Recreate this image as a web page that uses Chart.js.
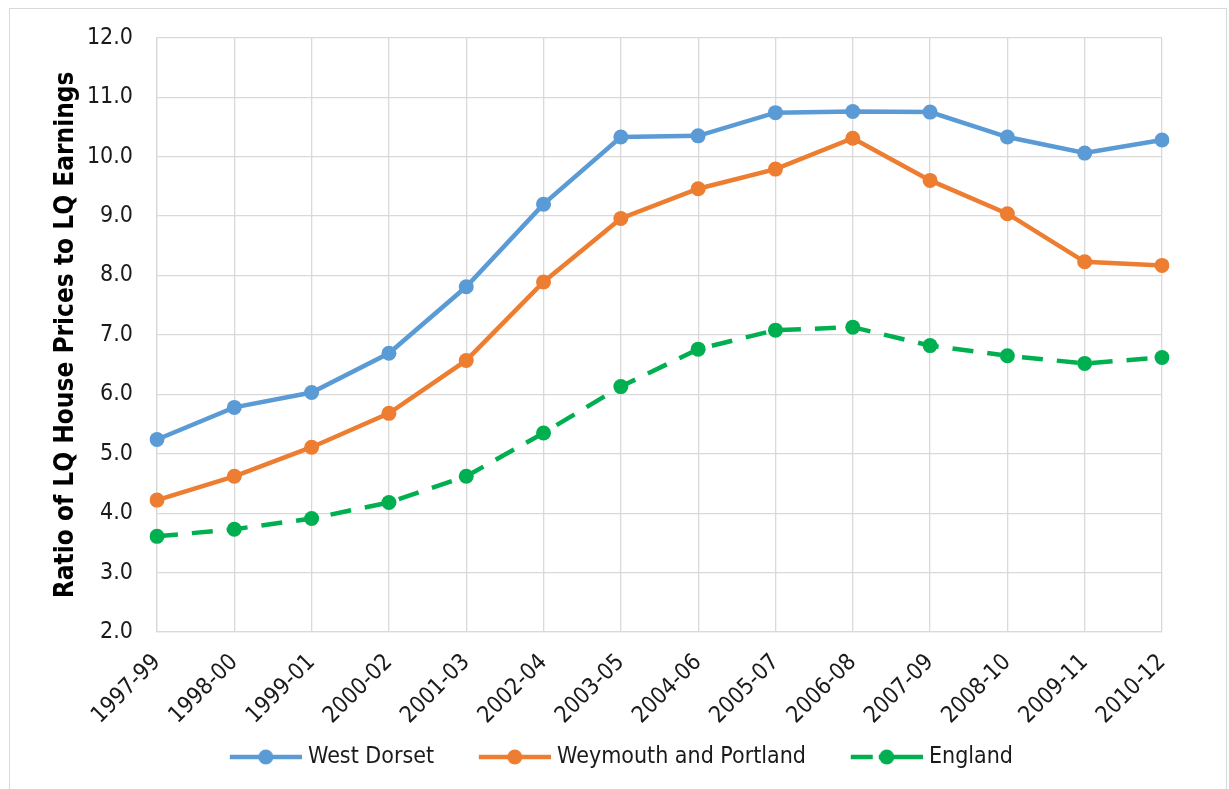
<!DOCTYPE html>
<html>
<head>
<meta charset="utf-8">
<script src="https://cdn.jsdelivr.net/npm/chart.js@4.4.1/dist/chart.umd.min.js"></script>
<style>
html, body { margin: 0; padding: 0; background: #fff; overflow: hidden; }
#wrap { position: relative; width: 1229px; height: 789px; }
#frame { position: absolute; left: 9px; top: 8px; width: 1216px; height: 785px; border: 1px solid #d9d9d9; pointer-events: none; }
</style>
</head>
<body>
<div id="wrap"><canvas id="graficoLinha"></canvas><div id="frame"></div></div>
<script>
const periodos = ['1997-99', '1998-00', '1999-01', '2000-02', '2001-03', '2002-04', '2003-05',
    '2004-06', '2005-07', '2006-08', '2007-09', '2008-10', '2009-11', '2010-12'];
const westDorset = [5.24, 5.78, 6.03, 6.69, 7.81, 9.20, 10.33, 10.35, 10.74, 10.76, 10.75, 10.33, 10.06, 10.28];
const weymouthPortland = [4.22, 4.62, 5.11, 5.68, 6.57, 7.89, 8.96, 9.46, 9.79, 10.31, 9.60, 9.04, 8.23, 8.17];
const england = [3.61, 3.73, 3.91, 4.18, 4.62, 5.35, 6.13, 6.76, 7.08, 7.13, 6.82, 6.65, 6.52, 6.62];
const nomes = ['West Dorset', 'Weymouth and Portland', 'England'];
const cores = ['#5B9BD5', '#ED7D31', '#00B050'];
const tracos = [[], [], [21, 14]];

const fonte = "'DejaVu Sans Condensed', 'Liberation Sans', sans-serif";
const tamanho = 23;
const caixa = 101.5;   // legend box width (image is wider, transparent on the left)

// legend icon: line with a dot, visible part is the right 72px
function icone(cor, tracejado) {
    const c = document.createElement('canvas');
    c.width = caixa + 11; c.height = 18;
    const g = c.getContext('2d');
    const x0 = c.width - 72;
    g.strokeStyle = cor;
    g.lineWidth = 4.5;
    g.beginPath();
    if (tracejado) {
        g.moveTo(x0, 9); g.lineTo(x0 + 22, 9);
        g.moveTo(x0 + 28, 9); g.lineTo(x0 + 72, 9);
    } else {
        g.moveTo(x0, 9); g.lineTo(x0 + 72, 9);
    }
    g.stroke();
    g.fillStyle = cor;
    g.beginPath(); g.arc(x0 + 36, 9, 7.5, 0, Math.PI * 2); g.fill();
    return c;
}
const icones = cores.map((c, i) => icone(c, tracos[i].length > 0));

const series = [westDorset, weymouthPortland, england];

const ctxLinha = document.getElementById('graficoLinha').getContext('2d');
const graficoLinha = new Chart(ctxLinha, {
    type: 'line',
    data: {
        labels: periodos,
        datasets: series.map((s, i) => ({
            label: nomes[i],
            data: s,
            borderColor: cores[i],
            backgroundColor: cores[i],
            borderWidth: 4.5,
            borderDash: tracos[i],
            pointRadius: 7.5,
            pointHoverRadius: 7.5,
            pointBorderWidth: 0,
            tension: 0
        }))
    },
    options: {
        responsive: true,
        maintainAspectRatio: false,
        animation: false,
        devicePixelRatio: 1,
        layout: { padding: { left: 0, right: 21, top: 37, bottom: 10.5 } },
        scales: {
            x: {
                grid: { color: '#d9d9d9', lineWidth: 1.3, drawTicks: false },
                border: { color: '#d9d9d9', width: 1.3 },
                ticks: { font: { family: fonte, size: tamanho }, color: '#1a1a1a', maxRotation: 45, minRotation: 45, padding: 17 },
                afterFit: s => { s.height = 103.5; }
            },
            y: {
                min: 2,
                max: 12,
                grid: { color: '#d9d9d9', lineWidth: 1.3, drawTicks: false },
                border: { color: '#d9d9d9', width: 1.3 },
                ticks: { stepSize: 1, font: { family: fonte, size: tamanho }, color: '#1a1a1a', padding: 24,
                    callback: v => v.toFixed(1) },
                title: { display: true, text: 'Ratio of LQ House Prices to LQ Earnings', color: '#000',
                    font: { family: fonte, size: 26, weight: 'bold' }, padding: { top: 51, bottom: 0 } },
                afterFit: s => { s.width = 157; }
            },
            yDir: {
                position: 'right',
                grid: { display: false },
                border: { display: false },
                ticks: { display: false },
                afterFit: s => { s.width = 46; }
            }
        },
        plugins: {
            legend: {
                position: 'bottom',
                labels: {
                    usePointStyle: true,
                    pointStyleWidth: caixa,
                    boxHeight: 18,
                    padding: 10,
                    color: '#1a1a1a',
                    font: { family: fonte, size: tamanho },
                    generateLabels: chart => Chart.defaults.plugins.legend.labels.generateLabels(chart)
                        .map((it, i) => Object.assign(it, { pointStyle: icones[i] }))
                }
            },
            tooltip: { enabled: false }
        }
    }
});
</script>
</body>
</html>
